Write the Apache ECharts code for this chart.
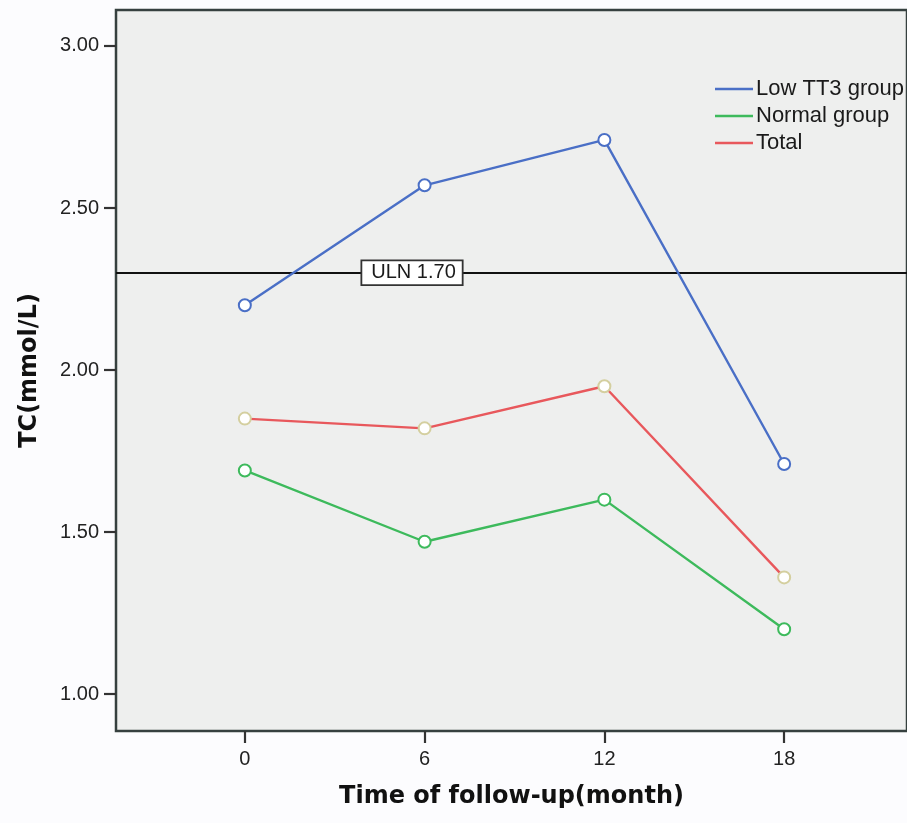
<!DOCTYPE html>
<html><head><meta charset="utf-8">
<script src="https://cdn.jsdelivr.net/npm/echarts@6/dist/echarts.min.js"></script>
<style>html,body{margin:0;padding:0;background:#fcfcfe;}#c{width:907px;height:823px;}</style>
</head><body><div id="c"></div>
<script>
const months = [0, 6, 12, 18];
const lowTT3 = [2.20, 2.57, 2.71, 1.71];
const normalGroup = [1.69, 1.47, 1.60, 1.20];
const total = [1.85, 1.82, 1.95, 1.36];
const seriesNames = ['Low TT3 group', 'Normal group', 'Total'];
const yTicks = [1.00, 1.50, 2.00, 2.50, 3.00];
const xTicks = [0, 6, 12, 18];
const ulnValue = 2.30;
const ulnLabel = 'ULN 1.70';
const ulnLabelX = 5.58;

const pairs = v => months.map((m, i) => [m, v[i]]);
const font = 'Liberation Sans, Arial, sans-serif';
const titleFont = 'DejaVu Sans, Verdana, sans-serif';
const lineColors = ['#4a6fc6', '#3dba5c', '#e8585c'];
const symColors = ['#4a6fc6', '#3dba5c', '#d4cf9f'];

function mkSeries(i, data) {
  return {
    name: seriesNames[i], type: 'line', data: pairs(data),
    symbol: 'emptyCircle', symbolSize: 12,
    lineStyle: { color: lineColors[i], width: 2.4 },
    itemStyle: { color: symColors[i], borderColor: symColors[i], borderWidth: 2.2 },
    emphasis: { disabled: true },
    z: 3
  };
}

const s0 = mkSeries(0, lowTT3);
const s1 = mkSeries(1, normalGroup);
const s2 = mkSeries(2, total);

s0.markLine = {
  silent: true, symbol: ['none', 'none'],
  lineStyle: { color: '#111', width: 1.8, type: 'solid' },
  label: { show: false },
  data: [{ yAxis: ulnValue }],
  z: 2
};
s0.markPoint = {
  silent: true, symbol: 'circle', symbolSize: 0,
  data: [{ coord: [ulnLabelX, ulnValue] }],
  label: {
    show: true, formatter: ulnLabel, position: 'inside',
    color: '#1a1a1a', fontFamily: font, fontSize: 20,
    backgroundColor: '#ffffff', borderColor: '#333', borderWidth: 1.8,
    padding: [2, 6, 1, 9]
  }
};

const chart = echarts.init(document.getElementById('c'), null, { renderer: 'canvas' });
chart.setOption({
  animation: false,
  backgroundColor: '#fcfcfe',
  grid: {
    left: 116, right: -1, top: 10, bottom: 92,
    show: true, backgroundColor: '#eeefee', borderColor: '#36403f', borderWidth: 2.5
  },
  legend: {
    orient: 'vertical', left: 710, top: 73, itemGap: 5,
    icon: 'rect', itemWidth: 38, itemHeight: 2.5,
    itemStyle: { borderWidth: 0 },
    textStyle: { fontFamily: font, fontSize: 22, color: '#1a1a1a', padding: [0, 0, 0, -2] },
    data: seriesNames.map((n, i) => ({ name: n, itemStyle: { color: lineColors[i], borderWidth: 0 } }))
  },
  xAxis: {
    type: 'value', min: -4.3, max: 22.1,
    name: 'Time of follow-up(month)', nameLocation: 'middle', nameGap: 54,
    nameTextStyle: { fontFamily: titleFont, fontSize: 24, fontWeight: 'bold', color: '#111' },
    axisLine: { show: false, onZero: false },
    splitLine: { show: false },
    axisTick: { show: true, length: 12, lineStyle: { color: '#333', width: 2.2 }, customValues: xTicks },
    axisLabel: { fontFamily: font, fontSize: 20, color: '#222', margin: 18, customValues: xTicks }
  },
  yAxis: {
    type: 'value', min: 0.886, max: 3.111,
    name: 'TC(mmol/L)', nameLocation: 'middle', nameGap: 74, nameRotate: 90,
    nameTextStyle: { fontFamily: titleFont, fontSize: 24, fontWeight: 'bold', color: '#111' },
    axisLine: { show: false, onZero: false },
    splitLine: { show: false },
    axisTick: { show: true, length: 12, lineStyle: { color: '#333', width: 2.2 }, customValues: yTicks },
    axisLabel: { fontFamily: font, fontSize: 20, color: '#222', margin: 17, customValues: yTicks,
      formatter: v => v.toFixed(2) }
  },
  series: [s0, s1, s2]
});
</script></body></html>
